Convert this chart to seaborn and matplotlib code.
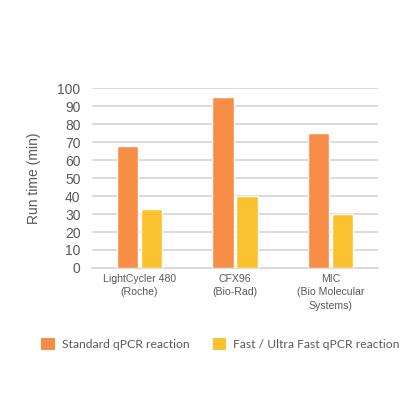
import matplotlib
matplotlib.use('Agg')
import matplotlib.pyplot as plt
import seaborn as sns
import pandas as pd
from matplotlib.patches import Patch

#%% data
instruments = ['LightCycler 480\n(Roche)', 'CFX96\n(Bio-Rad)', 'MIC\n(Bio Molecular\nSystems)']
standard = [68, 95, 75]
fast = [33, 40, 30]
series = ['Standard qPCR reaction', 'Fast / Ultra Fast qPCR reaction']
colors = ['#F78D46', '#FCC12E']
yticks = list(range(0, 101, 10))

df = pd.DataFrame({
    'instrument': instruments * 2,
    'value': standard + fast,
    'series': [series[0]] * 3 + [series[1]] * 3,
})

#%% plot
sns.set_style('white')
plt.rcParams['font.family'] = ['Liberation Sans', 'DejaVu Sans']
text_col = '#595959'

fig = plt.figure(figsize=(4.2, 4.2), dpi=100)
ax = fig.add_axes([0.218, 0.362, 0.683, 0.428])

sns.barplot(data=df, x='instrument', y='value', hue='series',
            palette=colors, width=0.5, gap=0.1, ax=ax, legend=False,
            saturation=1, zorder=3)

ax.set_xlim(-0.5, 2.5)
ax.set_ylim(0, 100)
ax.set_yticks(yticks)
ax.yaxis.grid(True, color='#D9D9D9', linewidth=1.3, zorder=0)
ax.set_axisbelow(True)
for s in ['top', 'right', 'left']:
    ax.spines[s].set_visible(False)
ax.spines['bottom'].set_color('#D9D9D9')
ax.spines['bottom'].set_linewidth(1.3)
ax.tick_params(axis='y', length=0, labelsize=10, labelcolor=text_col, pad=8)
ax.tick_params(axis='x', length=0, labelsize=7.6, labelcolor=text_col, pad=4)
for lbl in ax.get_xticklabels():
    lbl.set_linespacing(1.45)
ax.set_xlabel('')
ax.set_ylabel('Run time (min)', fontsize=10, color=text_col, labelpad=12)

handles = [Patch(facecolor=c, edgecolor='none') for c in colors]
fig.legend(handles, series, loc='center', bbox_to_anchor=(0.525, 0.18), ncol=2,
           frameon=False, labelcolor=text_col,
           handlelength=1.1, handleheight=1.1, handletextpad=0.6,
           columnspacing=1.9, prop={'family': ['Lato', 'DejaVu Sans'], 'size': 8.7})

fig.savefig('out.png', dpi=100)
